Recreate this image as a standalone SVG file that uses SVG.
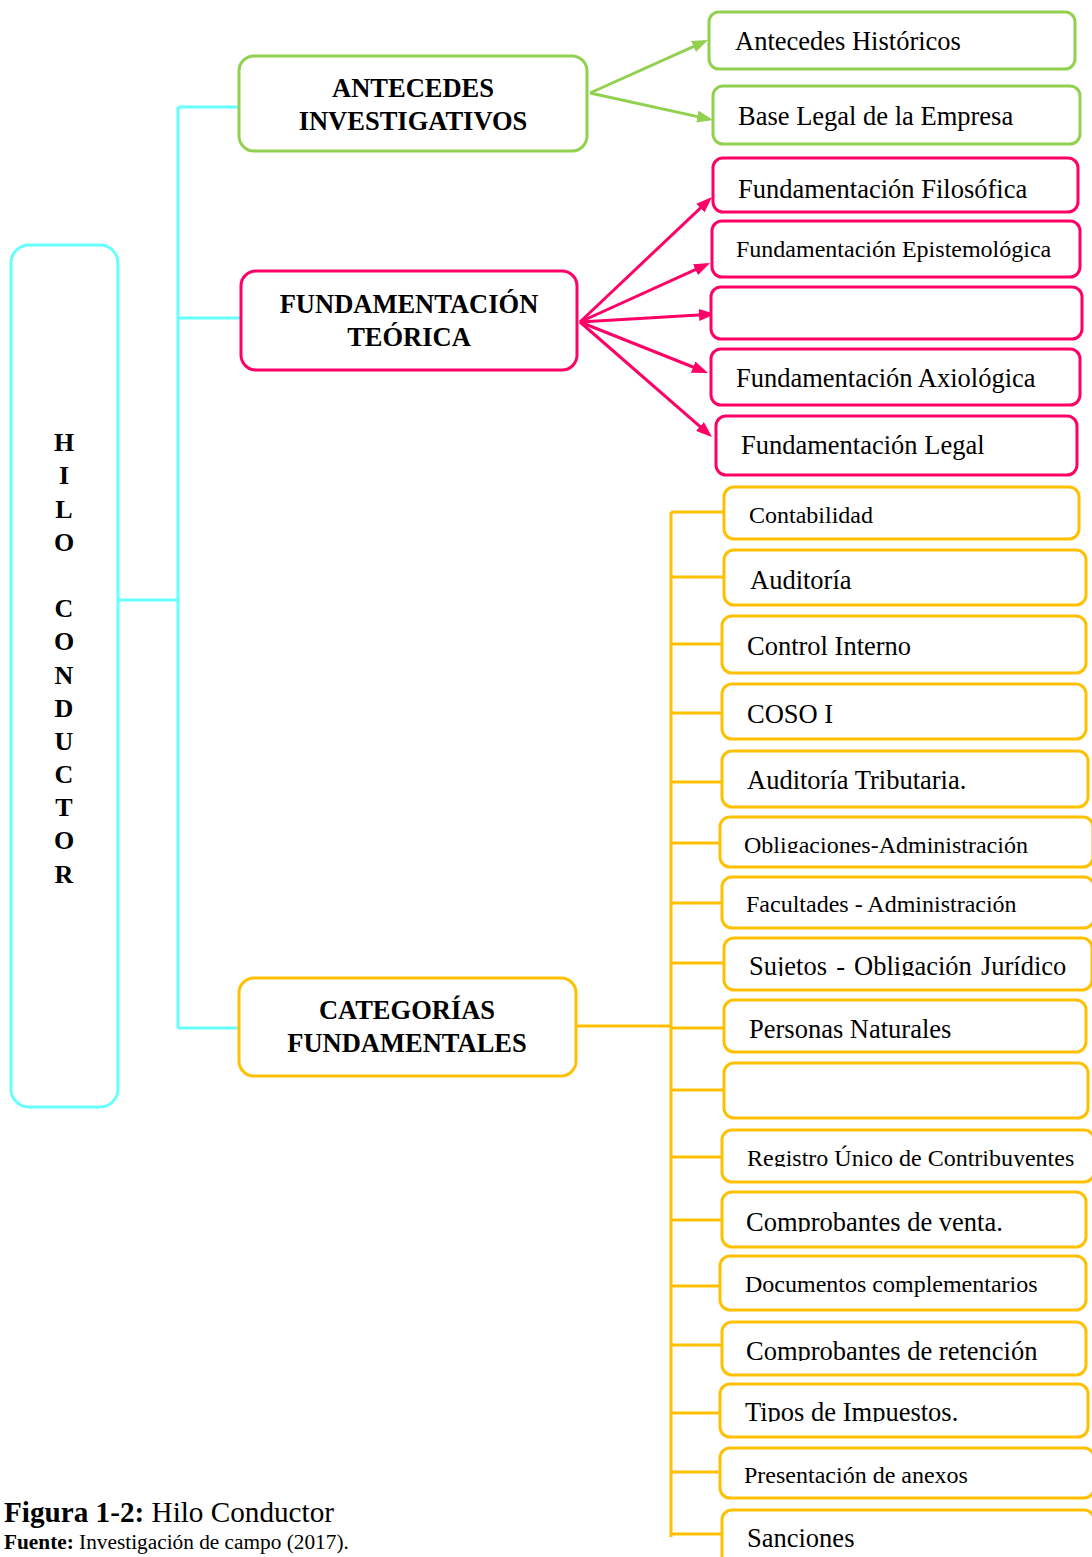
<svg xmlns="http://www.w3.org/2000/svg" width="1092" height="1557" viewBox="0 0 1092 1557">
<style>
  .box{fill:#fff;stroke-width:3}
  .g{stroke:#92D050}
  .p{stroke:#FF0066}
  .y{stroke:#FFC000}
  .c{stroke:#66FFFF}
  .ln{fill:none;stroke-width:3}
  text{font-family:"Liberation Serif","Times New Roman",serif;fill:#000}
  .hd{font-size:26.5px;font-weight:bold;text-anchor:middle}
  .lg{font-size:26.5px}
  .sm{font-size:24px}
  .v{font-size:26px;font-weight:bold;text-anchor:middle}
</style>
<defs>
  <marker id="ag" markerUnits="userSpaceOnUse" markerWidth="16" markerHeight="12" refX="12" refY="6" orient="auto"><path d="M0,0 L16,6 L0,12 z" fill="#92D050"/></marker>
  <marker id="ap" markerUnits="userSpaceOnUse" markerWidth="16" markerHeight="12" refX="12" refY="6" orient="auto"><path d="M0,0 L16,6 L0,12 z" fill="#FF0066"/></marker>
  <clipPath id="c6"><rect x="720" y="817" width="380" height="36"/></clipPath>
  <clipPath id="c8"><rect x="724" y="938" width="380" height="38"/></clipPath>
  <clipPath id="c11"><rect x="722" y="1130" width="380" height="37"/></clipPath>
  <clipPath id="c12"><rect x="722" y="1192" width="380" height="40"/></clipPath>
  <clipPath id="c14"><rect x="722" y="1322" width="380" height="39"/></clipPath>
  <clipPath id="c15"><rect x="720" y="1384" width="380" height="38"/></clipPath>
</defs>

<g id="connectors">
  <path class="ln c" d="M178,107 V1028 M178,107 H239 M178,318 H241 M118,600 H178 M178,1028 H239"/>
  <line class="ln g" x1="590" y1="93" x2="704.4" y2="41.6" marker-end="url(#ag)"/>
  <line class="ln g" x1="590" y1="93" x2="709.1" y2="119.1" marker-end="url(#ag)"/>
  <line class="ln p" x1="580" y1="322" x2="709.1" y2="199.8" marker-end="url(#ap)"/>
  <line class="ln p" x1="580" y1="322" x2="706.4" y2="264.7" marker-end="url(#ap)"/>
  <line class="ln p" x1="580" y1="322" x2="711" y2="314.2" marker-end="url(#ap)"/>
  <line class="ln p" x1="580" y1="322" x2="704.3" y2="371.5" marker-end="url(#ap)"/>
  <line class="ln p" x1="580" y1="322" x2="709" y2="434.4" marker-end="url(#ap)"/>
  <path class="ln y" d="M571,1026 H671 M671,512 V1537 M671,512 H724 M671,577 H724 M671,644 H722 M671,713 H722 M671,782 H722 M671,843 H720 M671,903 H722 M671,963 H724 M671,1028 H724 M671,1090 H724 M671,1157 H722 M671,1220 H722 M671,1286 H720 M671,1345 H722 M671,1413 H720 M671,1472 H720 M671,1534 H722"/>
</g>

<g id="hilo-conductor">
  <rect class="box c" x="11" y="245" width="107" height="862" rx="18"/>
  <text class="v" x="64" y="451">H</text>
  <text class="v" x="64" y="484">I</text>
  <text class="v" x="64" y="518">L</text>
  <text class="v" x="64" y="551">O</text>
  <text class="v" x="64" y="617">C</text>
  <text class="v" x="64" y="650">O</text>
  <text class="v" x="64" y="684">N</text>
  <text class="v" x="64" y="717">D</text>
  <text class="v" x="64" y="750">U</text>
  <text class="v" x="64" y="783">C</text>
  <text class="v" x="64" y="816">T</text>
  <text class="v" x="64" y="849">O</text>
  <text class="v" x="64" y="883">R</text>
</g>

<g id="antecedes-investigativos">
  <rect class="box g" x="239" y="56" width="348" height="95" rx="15"/>
  <text class="hd" x="413" y="97">ANTECEDES</text>
  <text class="hd" x="413" y="130">INVESTIGATIVOS</text>
</g>
<g id="antecedes-historicos">
  <rect class="box g" x="709" y="12" width="366" height="57" rx="10"/>
  <text class="lg" x="735" y="50">Antecedes Históricos</text>
</g>
<g id="base-legal">
  <rect class="box g" x="713" y="86" width="367" height="58" rx="10"/>
  <text class="lg" x="738" y="125">Base Legal de la Empresa</text>
</g>

<g id="fundamentacion-teorica">
  <rect class="box p" x="241" y="271" width="336" height="99" rx="15"/>
  <text class="hd" x="409" y="313">FUNDAMENTACIÓN</text>
  <text class="hd" x="409" y="346">TEÓRICA</text>
</g>
<g id="fund-filosofica">
  <rect class="box p" x="713" y="158" width="365" height="54" rx="10"/>
  <text class="lg" x="738" y="198">Fundamentación Filosófica</text>
</g>
<g id="fund-epistemologica">
  <rect class="box p" x="712" y="221" width="368" height="56" rx="10"/>
  <text class="sm" x="736" y="257">Fundamentación Epistemológica</text>
</g>
<g id="fund-vacia">
  <rect class="box p" x="711" y="287" width="371" height="52" rx="10"/>
</g>
<g id="fund-axiologica">
  <rect class="box p" x="711" y="349" width="369" height="56" rx="10"/>
  <text class="lg" x="736" y="387">Fundamentación Axiológica</text>
</g>
<g id="fund-legal">
  <rect class="box p" x="716" y="416" width="361" height="59" rx="10"/>
  <text class="lg" x="741" y="454">Fundamentación Legal</text>
</g>

<g id="categorias-fundamentales">
  <rect class="box y" x="239" y="978" width="337" height="98" rx="15"/>
  <text class="hd" x="407" y="1019">CATEGORÍAS</text>
  <text class="hd" x="407" y="1052">FUNDAMENTALES</text>
</g>
<g id="cat-contabilidad">
  <rect class="box y" x="724" y="487" width="355" height="52" rx="10"/>
  <text class="sm" x="749" y="523">Contabilidad</text>
</g>
<g id="cat-auditoria">
  <rect class="box y" x="724" y="550" width="362" height="55" rx="10"/>
  <text class="lg" x="750" y="589">Auditoría</text>
</g>
<g id="cat-control-interno">
  <rect class="box y" x="722" y="616" width="364" height="57" rx="10"/>
  <text class="lg" x="747" y="655">Control Interno</text>
</g>
<g id="cat-coso">
  <rect class="box y" x="722" y="684" width="364" height="55" rx="10"/>
  <text class="lg" x="747" y="723">COSO I</text>
</g>
<g id="cat-auditoria-tributaria">
  <rect class="box y" x="722" y="751" width="366" height="56" rx="10"/>
  <text class="lg" x="747" y="789">Auditoría Tributaria.</text>
</g>
<g id="cat-obligaciones">
  <rect class="box y" x="720" y="817" width="373" height="50" rx="10"/>
  <text class="sm" x="744" y="853" clip-path="url(#c6)">Obligaciones-Administración</text>
</g>
<g id="cat-facultades">
  <rect class="box y" x="722" y="877" width="372" height="51" rx="10"/>
  <text class="sm" x="746" y="912">Facultades - Administración</text>
</g>
<g id="cat-sujetos">
  <rect class="box y" x="724" y="938" width="368" height="52" rx="10"/>
  <text class="lg" x="749" y="975" clip-path="url(#c8)" word-spacing="2.5">Sujetos - Obligación Jurídico</text>
</g>
<g id="cat-personas">
  <rect class="box y" x="724" y="1000" width="362" height="52" rx="10"/>
  <text class="lg" x="749" y="1038">Personas Naturales</text>
</g>
<g id="cat-vacia">
  <rect class="box y" x="724" y="1063" width="364" height="55" rx="10"/>
</g>
<g id="cat-ruc">
  <rect class="box y" x="722" y="1130" width="372" height="52" rx="10"/>
  <text class="sm" x="747" y="1166" clip-path="url(#c11)">Registro Único de Contribuyentes</text>
</g>
<g id="cat-comprobantes-venta">
  <rect class="box y" x="722" y="1192" width="364" height="55" rx="10"/>
  <text class="lg" x="746" y="1231" clip-path="url(#c12)">Comprobantes de venta.</text>
</g>
<g id="cat-documentos">
  <rect class="box y" x="720" y="1256" width="366" height="54" rx="10"/>
  <text class="sm" x="745" y="1292">Documentos complementarios</text>
</g>
<g id="cat-comprobantes-retencion">
  <rect class="box y" x="722" y="1322" width="364" height="53" rx="10"/>
  <text class="lg" x="746" y="1360" clip-path="url(#c14)">Comprobantes de retención</text>
</g>
<g id="cat-tipos">
  <rect class="box y" x="720" y="1384" width="368" height="53" rx="10"/>
  <text class="lg" x="745" y="1421" clip-path="url(#c15)">Tipos de Impuestos.</text>
</g>
<g id="cat-anexos">
  <rect class="box y" x="720" y="1448" width="374" height="50" rx="10"/>
  <text class="sm" x="744" y="1483">Presentación de anexos</text>
</g>
<g id="cat-sanciones">
  <rect class="box y" x="722" y="1510" width="372" height="60" rx="10"/>
  <text class="lg" x="747" y="1547">Sanciones</text>
</g>

<g id="caption">
  <text x="4" y="1522" style="font-size:29.2px"><tspan font-weight="bold">Figura 1-2:</tspan> Hilo Conductor</text>
  <text x="4" y="1549" style="font-size:21.3px"><tspan font-weight="bold">Fuente:</tspan> Investigación de campo (2017).</text>
</g>
</svg>
